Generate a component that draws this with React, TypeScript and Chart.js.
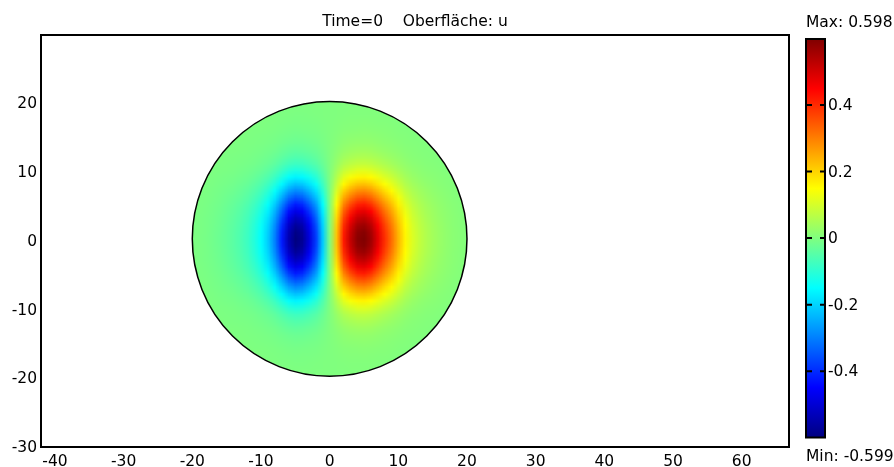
import React, { useEffect, useRef } from "react";
import { Chart, registerables } from "chart.js";

Chart.register(...registerables);

// ---------- texts ----------
const TITLE = "Time=0    Oberfläche: u";

// ---------- axes ----------
const X_RANGE = [-42.03, 66.89];
const Y_RANGE = [-30.3, 29.67];
const X_TICKS = [-40, -30, -20, -10, 0, 10, 20, 30, 40, 50, 60];
const Y_TICKS = [-30, -20, -10, 0, 10, 20];

// ---------- domain ----------
const DOMAIN_CENTER = [0, 0];
const DOMAIN_RADIUS = 20;

// ---------- field samples ----------
const GRID_X = [
  -20, -19, -18, -17, -16, -15, -14, -13, -12, -11, -10, -9, -8, -7, -6, -5, -4, -3, -2, -1, 0,
  1, 2, 3, 4, 5, 6, 7, 8, 9, 10, 11, 12, 13, 14, 15, 16, 17, 18, 19, 20,
];
// u along y = 0
const U_ALONG_X = [
  -0.003, -0.006, -0.01, -0.016, -0.024, -0.033, -0.045, -0.06, -0.08, -0.11, -0.15, -0.21, -0.3,
  -0.42, -0.54, -0.599, -0.575, -0.49, -0.38, -0.21, 0,
  0.22, 0.42, 0.52, 0.585, 0.598, 0.56, 0.48, 0.395, 0.32, 0.235, 0.16, 0.11, 0.08, 0.058, 0.042,
  0.03, 0.02, 0.013, 0.008, 0.004,
];
const GRID_Y = [
  -20, -19, -18, -17, -16, -15, -14, -13, -12, -11, -10, -9, -8, -7, -6, -5, -4, -3, -2, -1, 0,
  1, 2, 3, 4, 5, 6, 7, 8, 9, 10, 11, 12, 13, 14, 15, 16, 17, 18, 19, 20,
];
// relative vertical envelope of the lobes
const ENVELOPE_Y = [
  0.002, 0.004, 0.007, 0.011, 0.017, 0.027, 0.04, 0.06, 0.09, 0.13, 0.19, 0.27, 0.37, 0.48, 0.59,
  0.7, 0.8, 0.88, 0.945, 0.985, 1,
  0.985, 0.945, 0.88, 0.8, 0.7, 0.59, 0.48, 0.37, 0.27, 0.19, 0.13, 0.09, 0.06, 0.04, 0.027, 0.017,
  0.011, 0.007, 0.004, 0.002,
];

// ---------- colour range ----------
const U_MIN = -0.599;
const U_MAX = 0.598;
const COLORBAR_TICKS = [-0.4, -0.2, 0, 0.2, 0.4];
const COLORBAR_AXIS_RANGE = [-0.6275, 0.61];

const FONT = "DejaVu Sans";
const FONT_SIZE = 15.5;

function clamp01(v: number) {
  return v < 0 ? 0 : v > 1 ? 1 : v;
}
function jet(t: number): [number, number, number] {
  const r = clamp01(1.5 - Math.abs(4 * t - 3));
  const g = clamp01(1.5 - Math.abs(4 * t - 2));
  const b = clamp01(1.5 - Math.abs(4 * t - 1));
  return [Math.round(r * 255), Math.round(g * 255), Math.round(b * 255)];
}
const JET_STOPS = [0, 0.125, 0.375, 0.625, 0.875, 1];

function noPad(s: any) {
  s.paddingTop = 0;
  s.paddingBottom = 0;
  s.paddingLeft = 0;
  s.paddingRight = 0;
}

const fieldPlugin = {
  id: "fieldPlugin",
  beforeDatasetsDraw(chart: any) {
    const { ctx, chartArea } = chart;
    const xs = chart.scales.x;
    const ys = chart.scales.y;
    const nx = GRID_X.length;
    const ny = GRID_Y.length;
    const off = document.createElement("canvas");
    off.width = nx;
    off.height = ny;
    const octx = off.getContext("2d")!;
    const img = octx.createImageData(nx, ny);
    for (let j = 0; j < ny; j++) {
      const jy = ny - 1 - j;
      for (let i = 0; i < nx; i++) {
        const u = U_ALONG_X[i] * ENVELOPE_Y[jy];
        const t = (u - U_MIN) / (U_MAX - U_MIN);
        const [r, g, b] = jet(t);
        const k = (j * nx + i) * 4;
        img.data[k] = r;
        img.data[k + 1] = g;
        img.data[k + 2] = b;
        img.data[k + 3] = 255;
      }
    }
    octx.putImageData(img, 0, 0);

    const stepX = GRID_X[1] - GRID_X[0];
    const stepY = GRID_Y[1] - GRID_Y[0];
    const left = xs.getPixelForValue(GRID_X[0] - stepX / 2);
    const right = xs.getPixelForValue(GRID_X[nx - 1] + stepX / 2);
    const top = ys.getPixelForValue(GRID_Y[ny - 1] + stepY / 2);
    const bottom = ys.getPixelForValue(GRID_Y[0] - stepY / 2);

    const cx = xs.getPixelForValue(DOMAIN_CENTER[0]);
    const cy = ys.getPixelForValue(DOMAIN_CENTER[1]);
    const rx = xs.getPixelForValue(DOMAIN_CENTER[0] + DOMAIN_RADIUS) - cx;
    const ry = cy - ys.getPixelForValue(DOMAIN_CENTER[1] + DOMAIN_RADIUS);

    ctx.save();
    ctx.beginPath();
    ctx.rect(chartArea.left, chartArea.top, chartArea.right - chartArea.left, chartArea.bottom - chartArea.top);
    ctx.clip();
    ctx.beginPath();
    ctx.ellipse(cx, cy, rx, ry, 0, 0, Math.PI * 2);
    ctx.clip();
    ctx.imageSmoothingEnabled = true;
    ctx.imageSmoothingQuality = "low";
    ctx.drawImage(off, left, top, right - left, bottom - top);
    ctx.restore();

    ctx.save();
    ctx.beginPath();
    ctx.ellipse(cx, cy, rx, ry, 0, 0, Math.PI * 2);
    ctx.lineWidth = 1.5;
    ctx.strokeStyle = "#000";
    ctx.stroke();
    ctx.restore();
  },
  afterDraw(chart: any) {
    const { ctx, chartArea } = chart;
    // plot frame
    ctx.save();
    ctx.lineWidth = 2;
    ctx.strokeStyle = "#000";
    ctx.strokeRect(chartArea.left, chartArea.top, chartArea.right - chartArea.left, chartArea.bottom - chartArea.top);
    ctx.restore();

    // colour bar
    const cb = chart.scales.cb;
    const x0 = cb.left + 17;
    const x1 = cb.left + 36;
    const yTop = cb.getPixelForValue(U_MAX);
    const yBot = cb.getPixelForValue(U_MIN);
    const grad = ctx.createLinearGradient(0, yBot, 0, yTop);
    JET_STOPS.forEach((t) => {
      const [r, g, b] = jet(t);
      grad.addColorStop(t, `rgb(${r},${g},${b})`);
    });
    ctx.save();
    ctx.fillStyle = grad;
    ctx.fillRect(x0, yTop, x1 - x0, yBot - yTop);
    ctx.lineWidth = 2;
    ctx.strokeStyle = "#000";
    ctx.strokeRect(x0, yTop, x1 - x0, yBot - yTop);
    ctx.lineWidth = 2;
    for (const tk of cb.ticks) {
      const py = cb.getPixelForValue(tk.value);
      ctx.beginPath();
      ctx.moveTo(x0, py);
      ctx.lineTo(x0 + 6, py);
      ctx.moveTo(x1 - 5, py);
      ctx.lineTo(x1, py);
      ctx.stroke();
    }
    ctx.fillStyle = "#000";
    ctx.font = `${FONT_SIZE}px "${FONT}"`;
    ctx.textAlign = "left";
    ctx.textBaseline = "middle";
    ctx.fillText(`Max: ${U_MAX}`, x0, 23);
    ctx.fillText(`Min: ${U_MIN}`, x0, 457);
    ctx.restore();
  },
};

export default function App() {
  const ref = useRef<HTMLCanvasElement | null>(null);
  useEffect(() => {
    if (!ref.current) return;
    Chart.defaults.font.family = FONT;
    Chart.defaults.font.size = FONT_SIZE;
    Chart.defaults.color = "#000";
    const chart = new Chart(ref.current, {
      type: "scatter",
      data: { datasets: [] },
      options: {
        animation: false,
        responsive: false,
        devicePixelRatio: 1,
        layout: { padding: 0, autoPadding: false },
        plugins: {
          legend: { display: false },
          tooltip: { enabled: false },
          title: {
            display: true,
            text: TITLE,
            fullSize: false,
            color: "#000",
            font: { size: FONT_SIZE, weight: "normal", family: FONT, lineHeight: 1.2 },
            padding: { top: 13, bottom: 3.4 },
          },
        },
        scales: {
          x: {
            type: "linear",
            position: "bottom",
            min: X_RANGE[0],
            max: X_RANGE[1],
            grid: { display: false, drawTicks: false },
            border: { display: false },
            ticks: { padding: 6, maxRotation: 0, autoSkip: false, color: "#000" },
            afterBuildTicks: (s: any) => {
              s.ticks = X_TICKS.map((v) => ({ value: v }));
            },
            afterFit: (s: any) => {
              s.height = 20;
              noPad(s);
            },
          },
          y: {
            type: "linear",
            position: "left",
            min: Y_RANGE[0],
            max: Y_RANGE[1],
            grid: { display: false, drawTicks: false },
            border: { display: false },
            ticks: { padding: 4, labelOffset: 3, autoSkip: false, color: "#000" },
            afterBuildTicks: (s: any) => {
              s.ticks = Y_TICKS.map((v) => ({ value: v }));
            },
            afterFit: (s: any) => {
              s.width = 41;
              noPad(s);
            },
          },
          cb: {
            type: "linear",
            position: "right",
            min: COLORBAR_AXIS_RANGE[0],
            max: COLORBAR_AXIS_RANGE[1],
            grid: { display: false, drawTicks: false },
            border: { display: false },
            ticks: { padding: 39, labelOffset: 1, autoSkip: false, color: "#000" },
            afterBuildTicks: (s: any) => {
              s.ticks = COLORBAR_TICKS.map((v) => ({ value: v }));
            },
            afterFit: (s: any) => {
              s.width = 105;
              noPad(s);
            },
          },
        },
      } as any,
      plugins: [fieldPlugin],
    });
    return () => chart.destroy();
  }, []);
  return (
    <div style={{ position: "fixed", left: 0, top: 0, width: 894, height: 467, background: "#fff" }}>
      <canvas ref={ref} width={894} height={467} />
    </div>
  );
}
